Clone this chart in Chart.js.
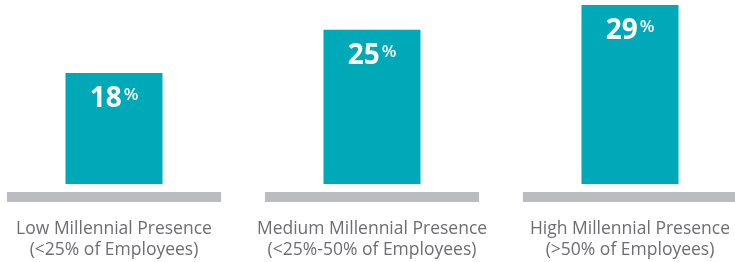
<!DOCTYPE html>
<html>
<head>
<meta charset="utf-8">
<script src="https://cdn.jsdelivr.net/npm/chart.js@4.4.1/dist/chart.umd.min.js"></script>
<style>
    html, body { margin: 0; padding: 0; background: #fff; overflow: hidden; }
    body { width: 735px; height: 262px; position: relative; }
    #wrap { position: absolute; left: -15px; top: 0; width: 774px; height: 262px; }
</style>
</head>
<body>
<div id="wrap"><canvas id="presenceChart"></canvas></div>
<script>
// values
const categories = [
    ['Low Millennial Presence', '(<25% of Employees)'],
    ['Medium Millennial Presence', '(<25%-50% of Employees)'],
    ['High Millennial Presence', '(>50% of Employees)']
];
const shareValues = [18, 25, 29];
const baseRange = [-1.3, -2.9]; // the grey plinth under each bar

const teal = '#00a9b8';
const plinth = '#bbbcc0';
const labelGrey = '#6d6e71';

// white "18%" label inside the top of each bar, % as superscript
const valueLabels = {
    id: 'valueLabels',
    afterDatasetsDraw(chart) {
        const ctx = chart.ctx;
        const meta = chart.getDatasetMeta(0);
        const numFont = 'bold 28px "Open Sans"';
        const pctFont = '600 17px "Open Sans"';
        ctx.save();
        ctx.fillStyle = '#ffffff';
        ctx.textBaseline = 'alphabetic';
        ctx.textAlign = 'left';
        meta.data.forEach(function (bar, i) {
            const num = String(shareValues[i]);
            ctx.font = numFont;
            const numW = ctx.measureText(num).width;
            ctx.font = pctFont;
            const pctW = ctx.measureText('%').width;
            const gap = 2;
            const x0 = bar.x - (numW + gap + pctW) / 2;
            const base = bar.y + 34;
            ctx.font = numFont;
            ctx.fillText(num, x0, base);
            ctx.font = pctFont;
            ctx.fillText('%', x0 + numW + gap, base - 7);
        });
        ctx.restore();
    }
};

document.addEventListener('DOMContentLoaded', function () {
    const ctx = document.getElementById('presenceChart').getContext('2d');
    new Chart(ctx, {
        type: 'bar',
        data: {
            labels: categories,
            datasets: [
                {
                    label: 'Share',
                    data: shareValues,
                    backgroundColor: teal,
                    borderWidth: 0,
                    grouped: false,
                    barPercentage: 0.376,
                    categoryPercentage: 1,
                    order: 1
                },
                {
                    label: 'Base',
                    data: categories.map(function () { return baseRange; }),
                    backgroundColor: plinth,
                    borderWidth: 0,
                    grouped: false,
                    barPercentage: 0.83,
                    categoryPercentage: 1,
                    order: 2
                }
            ]
        },
        options: {
            responsive: true,
            maintainAspectRatio: false,
            animation: false,
            layout: { padding: 0 },
            plugins: {
                legend: { display: false },
                tooltip: { enabled: false }
            },
            scales: {
                x: {
                    grid: { display: false, drawTicks: false },
                    border: { display: false },
                    ticks: {
                        color: labelGrey,
                        padding: 16,
                        font: { family: '"Open Sans"', size: 17.5, lineHeight: 1.22 }
                    },
                    afterFit: function (scale) { scale.height = 60; }
                },
                y: {
                    display: false,
                    min: -2.9,
                    max: 29.8
                }
            }
        },
        plugins: [valueLabels]
    });
});
</script>
</body>
</html>
